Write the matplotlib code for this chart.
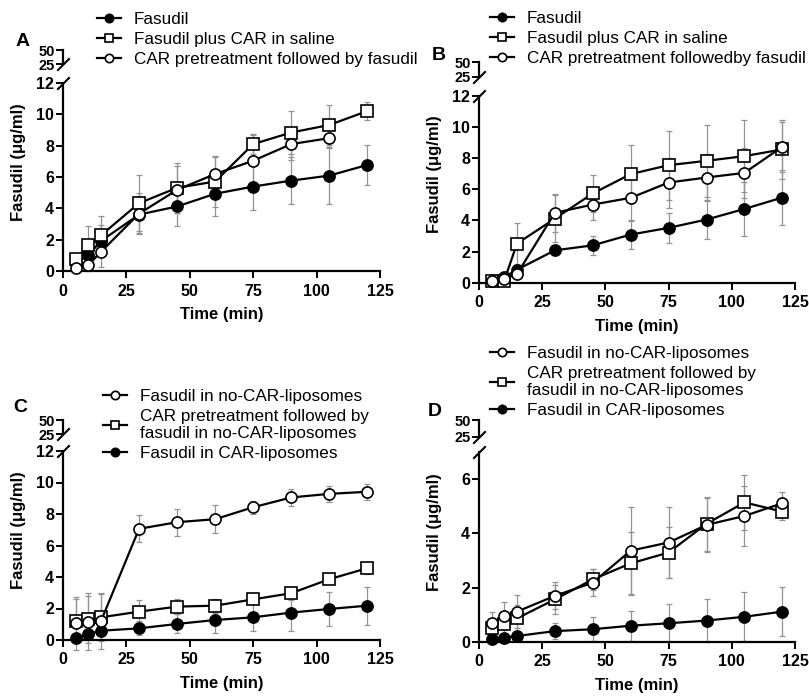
import matplotlib
matplotlib.use("Agg")
import matplotlib.pyplot as plt

plt.rcParams['font.family'] = ['Liberation Sans', 'DejaVu Sans']

# ---------------- data ----------------
t = [5, 10, 15, 30, 45, 60, 75, 90, 105, 120]
t_short = [5, 10, 15, 30, 45, 60, 75, 90, 105]

A_fas = [0.49, 1.01, 1.92, 3.6, 4.12, 4.93, 5.39, 5.77, 6.09, 6.77]
A_fas_sd = [0.3, 0.5, 1.0, 1.2, 1.25, 1.4, 1.5, 1.5, 1.8, 1.3]
A_sq = [0.74, 1.65, 2.28, 4.33, 5.31, 5.71, 8.1, 8.84, 9.32, 10.21]
A_sq_sd = [0.4, 1.25, 1.2, 1.8, 1.6, 1.6, 0.6, 1.35, 1.3, 0.6]
A_ci = [0.2, 0.38, 1.23, 3.66, 5.18, 6.19, 7.04, 8.1, 8.48]
A_ci_sd = [0.3, 0.4, 1.0, 1.3, 1.5, 1.1, 1.7, 1.0, 0.6]

B_fas = [0.17, 0.38, 0.85, 2.09, 2.41, 3.1, 3.53, 4.06, 4.74, 5.47]
B_fas_sd = [0.1, 0.1, 0.3, 0.3, 0.6, 0.9, 0.95, 1.25, 1.75, 1.75]
B_sq = [0.1, 0.15, 2.52, 4.12, 5.73, 6.97, 7.54, 7.82, 8.12, 8.55]
B_sq_sd = [0.1, 0.1, 1.3, 1.5, 1.2, 1.85, 2.2, 2.3, 2.3, 1.9]
B_ci = [0.1, 0.28, 0.56, 4.49, 5.02, 5.45, 6.43, 6.75, 7.05, 8.72]
B_ci_sd = [0.1, 0.1, 0.3, 1.2, 1.0, 1.5, 1.6, 1.5, 1.6, 1.6]

C_ci = [1.06, 1.17, 1.21, 7.06, 7.48, 7.67, 8.43, 9.05, 9.28, 9.41]
C_ci_sd = [1.7, 1.8, 1.8, 0.85, 0.85, 0.9, 0.4, 0.55, 0.5, 0.5]
C_sq = [1.23, 1.31, 1.44, 1.8, 2.12, 2.18, 2.58, 2.97, 3.86, 4.56]
C_sq_sd = [1.4, 1.5, 1.5, 0.75, 0.5, 0.45, 0.3, 0.4, 0.3, 0.35]
C_fas = [0.1, 0.38, 0.59, 0.74, 1.02, 1.27, 1.44, 1.74, 1.97, 2.18]
C_fas_sd = [0.1, 0.2, 0.3, 0.45, 0.6, 0.8, 0.9, 1.15, 1.05, 1.2]

D_ci = [0.68, 0.95, 1.11, 1.69, 2.18, 3.36, 3.66, 4.31, 4.64, 5.11]
D_ci_sd = [0.4, 0.5, 0.6, 0.5, 0.5, 1.6, 1.3, 1.0, 1.1, 0.4]
D_sq = [0.49, 0.64, 0.86, 1.56, 2.3, 2.89, 3.29, 4.35, 5.14, 4.8]
D_sq_sd = [0.3, 0.4, 0.5, 0.55, 0.4, 1.15, 0.95, 1.0, 1.0, 0.3]
D_fas = [0.1, 0.15, 0.21, 0.39, 0.46, 0.59, 0.68, 0.78, 0.92, 1.11]
D_fas_sd = [0.1, 0.1, 0.15, 0.3, 0.45, 0.55, 0.7, 0.8, 0.9, 0.9]

labels_A = ["Fasudil", "Fasudil plus CAR in saline", "CAR pretreatment followed by fasudil"]
labels_B = ["Fasudil", "Fasudil plus CAR in saline", "CAR pretreatment followedby fasudil"]
labels_CD = ["Fasudil in no-CAR-liposomes",
             "CAR pretreatment followed by\nfasudil in no-CAR-liposomes",
             "Fasudil in CAR-liposomes"]

xticks = [0, 25, 50, 75, 100, 125]
upper_ticks = [25, 50]

# ---------------- figure ----------------
W, H = 809, 696
fig = plt.figure(figsize=(W / 100, H / 100), dpi=100)

STYLE = {
    'fas': dict(marker='o', mfc='black', ms=8),
    'sq': dict(marker='s', mfc='white', ms=8.5),
    'ci': dict(marker='o', mfc='white', ms=8),
}


def rect(x0, x1, ytop, ybot):
    return [x0 / W, 1 - ybot / H, (x1 - x0) / W, (ybot - ytop) / H]


def panel(low_px, up_px, ylim, yticks, series, legend_order, legend_labels,
          leg_xy, letter, letter_xy):
    x0, x1, ytop, ybot = low_px
    ax = fig.add_axes(rect(x0, x1, ytop, ybot))
    axu = fig.add_axes(rect(x0, x1, up_px[0], up_px[1]))

    handles = {}
    for key, xs, ys, sd in series:
        st = STYLE[key]
        ax.errorbar(xs, ys, yerr=sd, fmt='none', ecolor='#939393', elinewidth=0.9,
                    capsize=2.5, capthick=0.9, zorder=2, clip_on=False)
        ln, = ax.plot(xs, ys, color='black', lw=1.6, marker=st['marker'],
                      mfc=st['mfc'], mec='black', mew=1.2, ms=st['ms'],
                      zorder=4, clip_on=False)
        handles[key] = ln

    ax.set_xlim(0, 125)
    ax.set_ylim(*ylim)
    ax.set_xticks(xticks)
    ax.set_yticks(yticks)
    for s in ['top', 'right']:
        ax.spines[s].set_visible(False)
    for s in ['left', 'bottom']:
        ax.spines[s].set_linewidth(1.6)
    ax.tick_params(axis='both', direction='out', length=5, width=1.4,
                   labelsize=11.5)
    ax.tick_params(axis='x', pad=4)
    ax.tick_params(axis='y', pad=1.5)
    for lab in ax.get_xticklabels() + ax.get_yticklabels():
        lab.set_fontweight('bold')
    ax.set_xlabel('Time (min)', fontsize=12, fontweight='bold', labelpad=6)
    ax.set_ylabel('Fasudil (\u03bcg/ml)', fontsize=12, fontweight='bold')
    ax.yaxis.set_label_coords(-0.118, 0.58)

    # upper broken segment
    axu.set_ylim(25, 50)
    axu.set_xlim(0, 125)
    axu.set_yticks(upper_ticks)
    axu.set_xticks([])
    for s in ['top', 'right', 'bottom']:
        axu.spines[s].set_visible(False)
    axu.spines['left'].set_linewidth(1.6)
    axu.patch.set_visible(False)
    axu.tick_params(axis='y', direction='out', length=5, width=1.4,
                    labelsize=10.5, pad=1)
    for lab in axu.get_yticklabels():
        lab.set_fontweight('bold')

    brk = dict(marker=[(-1, -1), (1, 1)], markersize=9, linestyle='none',
               color='black', mec='black', mew=1.5, clip_on=False)
    axu.plot([0], [0], transform=axu.transAxes, **brk)
    ax.plot([0], [1], transform=ax.transAxes, **brk)

    hs = [handles[k] for k in legend_order]
    ax.legend(hs, legend_labels, loc='upper left',
              bbox_to_anchor=(leg_xy[0] / W, 1 - leg_xy[1] / H),
              bbox_transform=fig.transFigure, frameon=False,
              fontsize=12.3, handlelength=1.4, handletextpad=0.75,
              labelspacing=0.28, borderpad=0, borderaxespad=0,
              markerscale=0.75)
    fig.text(letter_xy[0] / W, 1 - letter_xy[1] / H, letter, fontsize=14,
             fontweight='bold', ha='center', va='center')


panel((63, 380, 83, 271), (50, 64), (0, 12), [0, 2, 4, 6, 8, 10, 12],
      [('fas', t, A_fas, A_fas_sd), ('sq', t, A_sq, A_sq_sd), ('ci', t_short, A_ci, A_ci_sd)],
      ['fas', 'sq', 'ci'], labels_A, (97, 12), 'A', (23, 42))

panel((479, 795, 95.5, 283), (62, 77), (0, 12), [0, 2, 4, 6, 8, 10, 12],
      [('fas', t, B_fas, B_fas_sd), ('sq', t, B_sq, B_sq_sd), ('ci', t, B_ci, B_ci_sd)],
      ['fas', 'sq', 'ci'], labels_B, (490, 11), 'B', (439, 55))

panel((63, 380, 451, 640), (420, 434), (0, 12), [0, 2, 4, 6, 8, 10, 12],
      [('fas', t, C_fas, C_fas_sd), ('sq', t, C_sq, C_sq_sd), ('ci', t, C_ci, C_ci_sd)],
      ['ci', 'sq', 'fas'], labels_CD, (103, 389), 'C', (20, 408))

panel((479, 795, 452, 641.7), (420, 437), (0, 7), [0, 2, 4, 6],
      [('fas', t, D_fas, D_fas_sd), ('sq', t, D_sq, D_sq_sd), ('ci', t, D_ci, D_ci_sd)],
      ['ci', 'sq', 'fas'], labels_CD, (490, 346), 'D', (435, 412))

fig.savefig('out.png', dpi=100)
